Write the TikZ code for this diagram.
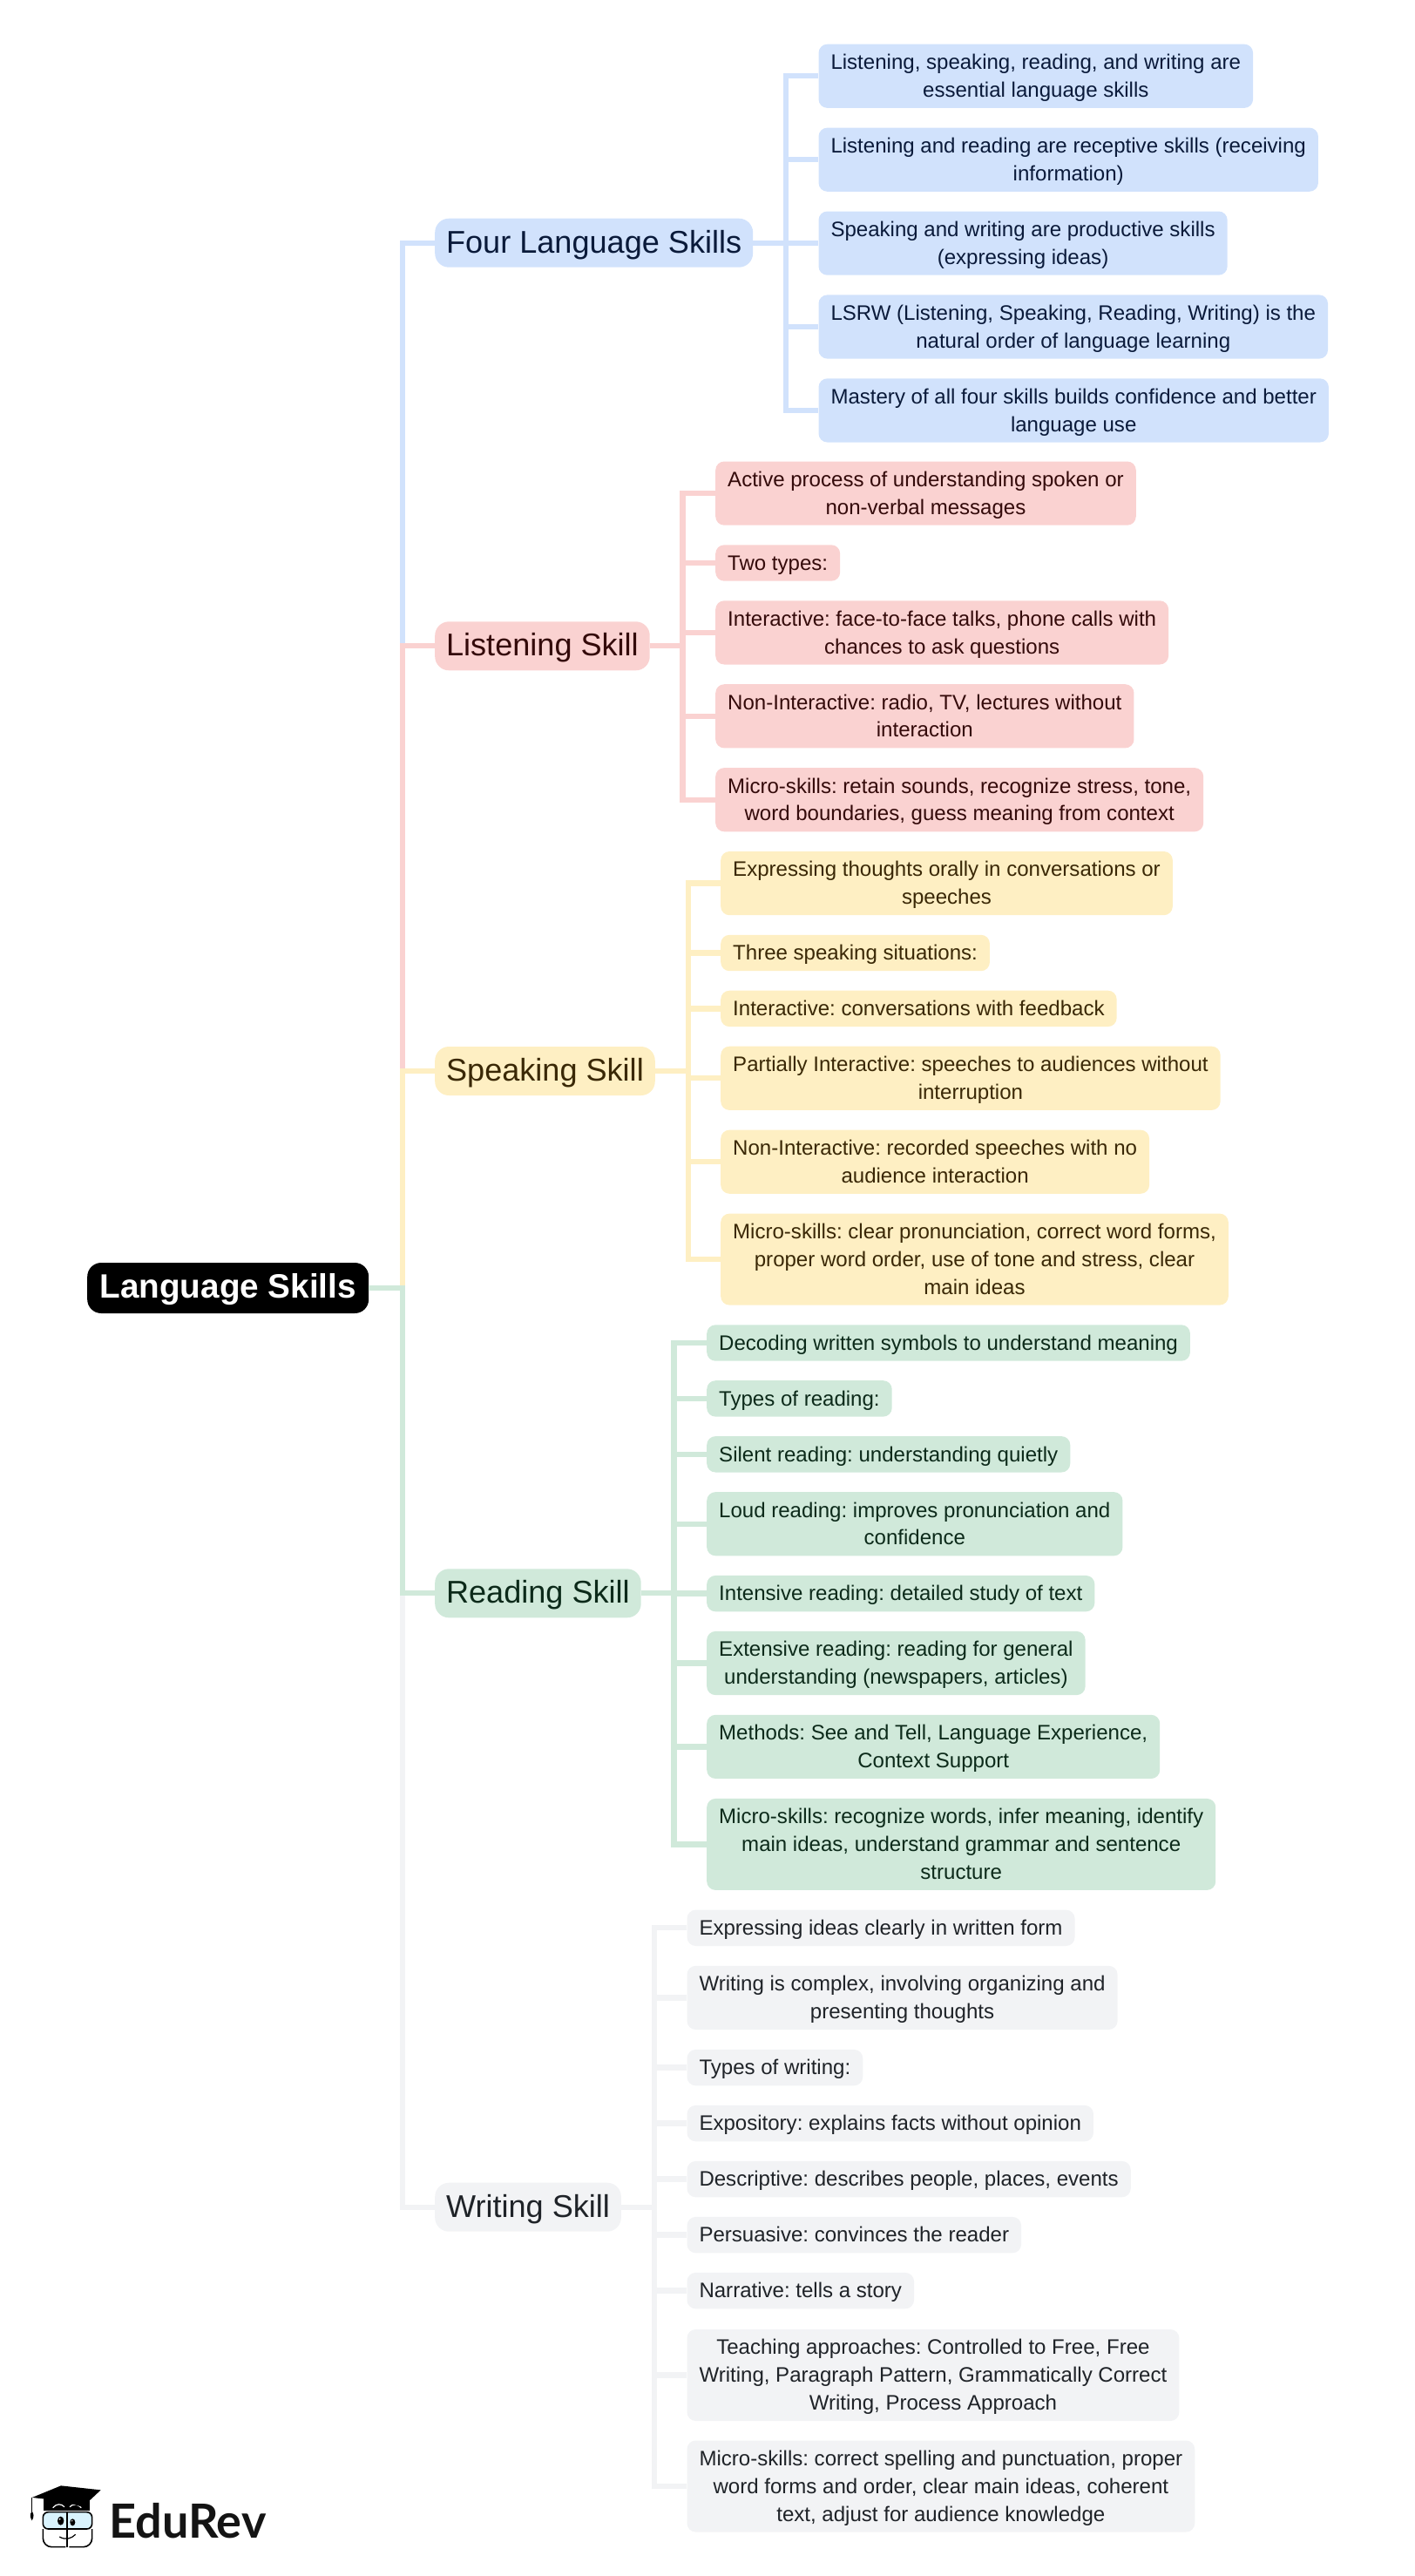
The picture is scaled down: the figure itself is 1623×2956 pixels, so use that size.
\documentclass[tikz,border=0pt]{standalone}
\usepackage{fontspec}
\setmainfont{Liberation Sans}
\newfontfamily\logofont{Lato}
\frenchspacing
\definecolor{cb}{HTML}{D1E2FC}\definecolor{tb}{HTML}{0A1A3A}
\definecolor{cr}{HTML}{FAD2D1}\definecolor{tr}{HTML}{340A0A}
\definecolor{cy}{HTML}{FEEFC3}\definecolor{ty}{HTML}{3A2806}
\definecolor{cg}{HTML}{D0E9DA}\definecolor{tg}{HTML}{0C2A1A}
\definecolor{cw}{HTML}{F2F3F5}\definecolor{tw}{HTML}{1F2328}
\newcommand{\lstrut}{\rule[-7.7pt]{0pt}{31.8pt}}
\newcommand{\pstrut}{\rule[-8.6pt]{0pt}{40pt}}
\tikzset{
 rootnode/.style={fill=black,text=white,rounded corners=16pt,inner xsep=14pt,inner ysep=0pt,minimum height=58pt,minimum width=323pt,anchor=west,font=\fontsize{38.7}{40}\selectfont\bfseries},
 parent/.style={fill=#1,rounded corners=16pt,inner xsep=12.9pt,inner ysep=0pt,minimum height=56pt,anchor=west,font=\fontsize{36.1}{40}\selectfont},
 leaf/.style={fill=#1,rounded corners=10pt,inner xsep=14pt,inner ysep=4.8pt,anchor=west,align=center,font=\fontsize{24.05}{31.8}\selectfont,execute at end node=\lstrut},
 link/.style={draw=#1,line width=6.3pt,line join=miter},
}
\begin{document}
\begin{tikzpicture}[x=1pt,y=-1pt]
\useasboundingbox (0,0) rectangle (1623,2956);
\node[rootnode] (root) at (100,1478) {\pstrut Language Skills};
\node[parent=cb,text=tb] (pb) at (499,278.7) {\pstrut Four Language Skills};
\node[parent=cr,text=tr] (pr) at (499,741.3) {\pstrut Listening Skill};
\node[parent=cy,text=ty] (py) at (499,1229) {\pstrut Speaking Skill};
\node[parent=cg,text=tg] (pg) at (499,1828.3) {\pstrut Reading Skill};
\node[parent=cw,text=tw] (pw) at (499,2532.7) {\pstrut Writing Skill};
\coordinate (s0) at (461.7,0);
\coordinate (sb) at (901.7,0);
\coordinate (sr) at (783.6,0);
\coordinate (sy) at (790,0);
\coordinate (sg) at (773.6,0);
\coordinate (sw) at (751.3,0);
% blue
\node[leaf=cb,text=tb] (b1) at (939.3,87.3) {\lstrut Listening, speaking, reading, and writing are\\essential language skills};
\node[leaf=cb,text=tb] (b2) at (939.3,183.2) {\lstrut Listening and reading are receptive skills (receiving\\information)};
\node[leaf=cb,text=tb] (b3) at (939.3,279.1) {\lstrut Speaking and writing are productive skills\\(expressing ideas)};
\node[leaf=cb,text=tb] (b4) at (939.3,375) {\lstrut LSRW (Listening, Speaking, Reading, Writing) is the\\natural order of language learning};
\node[leaf=cb,text=tb] (b5) at (939.3,470.9) {\lstrut Mastery of all four skills builds confidence and better\\language use};
% red
\node[leaf=cr,text=tr] (r1) at (821,566.1) {\lstrut Active process of understanding spoken or\\non-verbal messages};
\node[leaf=cr,text=tr] (r2) at (821,646) {\lstrut Two types:};
\node[leaf=cr,text=tr] (r3) at (821,725.9) {\lstrut Interactive: face-to-face talks, phone calls with\\chances to ask questions};
\node[leaf=cr,text=tr] (r4) at (821,821.8) {\lstrut Non-Interactive: radio, TV, lectures without\\interaction};
\node[leaf=cr,text=tr] (r5) at (821,917.7) {\lstrut Micro-skills: retain sounds, recognize stress, tone,\\word boundaries, guess meaning from context};
% yellow
\node[leaf=cy,text=ty] (y1) at (827,1013.6) {\lstrut Expressing thoughts orally in conversations or\\speeches};
\node[leaf=cy,text=ty] (y2) at (827,1093.5) {\lstrut Three speaking situations:};
\node[leaf=cy,text=ty] (y3) at (827,1157.4) {\lstrut Interactive: conversations with feedback};
\node[leaf=cy,text=ty] (y4) at (827,1237.3) {\lstrut Partially Interactive: speeches to audiences without\\interruption};
\node[leaf=cy,text=ty] (y5) at (827,1333.2) {\lstrut Non-Interactive: recorded speeches with no\\audience interaction};
\node[leaf=cy,text=ty] (y6) at (827,1445.1) {\lstrut Micro-skills: clear pronunciation, correct word forms,\\proper word order, use of tone and stress, clear\\main ideas};
% green
\node[leaf=cg,text=tg] (g1) at (811,1541) {\lstrut Decoding written symbols to understand meaning};
\node[leaf=cg,text=tg] (g2) at (811,1604.9) {\lstrut Types of reading:};
\node[leaf=cg,text=tg] (g3) at (811,1668.8) {\lstrut Silent reading: understanding quietly};
\node[leaf=cg,text=tg] (g4) at (811,1748.7) {\lstrut Loud reading: improves pronunciation and\\confidence};
\node[leaf=cg,text=tg] (g5) at (811,1828.6) {\lstrut Intensive reading: detailed study of text};
\node[leaf=cg,text=tg] (g6) at (811,1908.5) {\lstrut Extensive reading: reading for general\\understanding (newspapers, articles)};
\node[leaf=cg,text=tg] (g7) at (811,2004.4) {\lstrut Methods: See and Tell, Language Experience,\\Context Support};
\node[leaf=cg,text=tg] (g8) at (811,2116.4) {\lstrut Micro-skills: recognize words, infer meaning, identify\\main ideas, understand grammar and sentence\\structure};
% grey
\node[leaf=cw,text=tw] (w1) at (788.3,2212.3) {\lstrut Expressing ideas clearly in written form};
\node[leaf=cw,text=tw] (w2) at (788.3,2292.4) {\lstrut Writing is complex, involving organizing and\\presenting thoughts};
\node[leaf=cw,text=tw] (w3) at (788.3,2372.6) {\lstrut Types of writing:};
\node[leaf=cw,text=tw] (w4) at (788.3,2436.6) {\lstrut Expository: explains facts without opinion};
\node[leaf=cw,text=tw] (w5) at (788.3,2500.6) {\lstrut Descriptive: describes people, places, events};
\node[leaf=cw,text=tw] (w6) at (788.3,2564.6) {\lstrut Persuasive: convinces the reader};
\node[leaf=cw,text=tw] (w7) at (788.3,2628.6) {\lstrut Narrative: tells a story};
\node[leaf=cw,text=tw] (w8) at (788.3,2725.5) {\lstrut Teaching approaches: Controlled to Free, Free\\Writing, Paragraph Pattern, Grammatically Correct\\Writing, Process Approach};
\node[leaf=cw,text=tw] (w9) at (788.3,2853) {\lstrut Micro-skills: correct spelling and punctuation, proper\\word forms and order, clear main ideas, coherent\\text, adjust for audience knowledge};
% connectors
\foreach \p/\c in {pb/cb,pr/cr,py/cy,pw/cw,pg/cg}
  \draw[link=\c] (root.east) -- (root.east -| s0) |- (\p.west);
\foreach \l in {b1,b2,b3,b4,b5}
  \draw[link=cb] (pb.east) -- (pb.east -| sb) |- (\l.west);
\foreach \l in {r1,r2,r3,r4,r5}
  \draw[link=cr] (pr.east) -- (pr.east -| sr) |- (\l.west);
\foreach \l in {y1,y2,y3,y4,y5,y6}
  \draw[link=cy] (py.east) -- (py.east -| sy) |- (\l.west);
\foreach \l in {g1,g2,g3,g4,g5,g6,g7,g8}
  \draw[link=cg] (pg.east) -- (pg.east -| sg) |- (\l.west);
\foreach \l in {w1,w2,w3,w4,w5,w6,w7,w8,w9}
  \draw[link=cw] (pw.east) -- (pw.east -| sw) |- (\l.west);
% logo
\node[anchor=base west,inner sep=0pt,font=\logofont\bfseries\fontsize{54}{58}\selectfont,text=black!92] (logo) at (125,2912) {EduRev};
\begin{scope}[shift={(0,2780)},x=0.3333pt,y=-0.3333pt]
 \fill[black] (150,262) -- (150,303) -- (310,303) -- (310,262) -- cycle;
 \draw[white,line width=1.2pt] (182,293) .. controls (195,278) and (210,278) .. (222,290);
 \draw[white,line width=1.2pt] (240,290) .. controls (250,278) and (268,280) .. (280,293);
 \fill[black] (110,258) -- (210,217) -- (347,232) -- (285,290) -- (200,268) -- (112,258) -- cycle;
 \draw[black,line width=1.2pt] (110,258) -- (110,310);
 \fill[black] (110,305) .. controls (102,315) and (103,325) .. (110,337) .. controls (117,325) and (118,315) .. (110,305) -- cycle;
 \draw[black,line width=1.6pt,fill=cyan!15,rounded corners=6pt] (148,308) rectangle (317,366);
 \draw[black,line width=1.6pt,rounded corners=10pt] (148,366) -- (148,428) -- (226,428);
 \draw[black,line width=1.6pt,rounded corners=10pt] (317,366) -- (317,428) -- (238,428);
 \draw[black,line width=2pt] (232,305) -- (232,430);
 \fill[black] (209,338) ellipse (11 and 15);
 \fill[black] (250,343) ellipse (9 and 12);
 \fill[white] (206,332) circle (3);
 \fill[white] (248,338) circle (2.5);
 \draw[black,line width=1.2pt] (205,393) .. controls (225,405) and (245,400) .. (260,385);
\end{scope}
\end{tikzpicture}
\end{document}
